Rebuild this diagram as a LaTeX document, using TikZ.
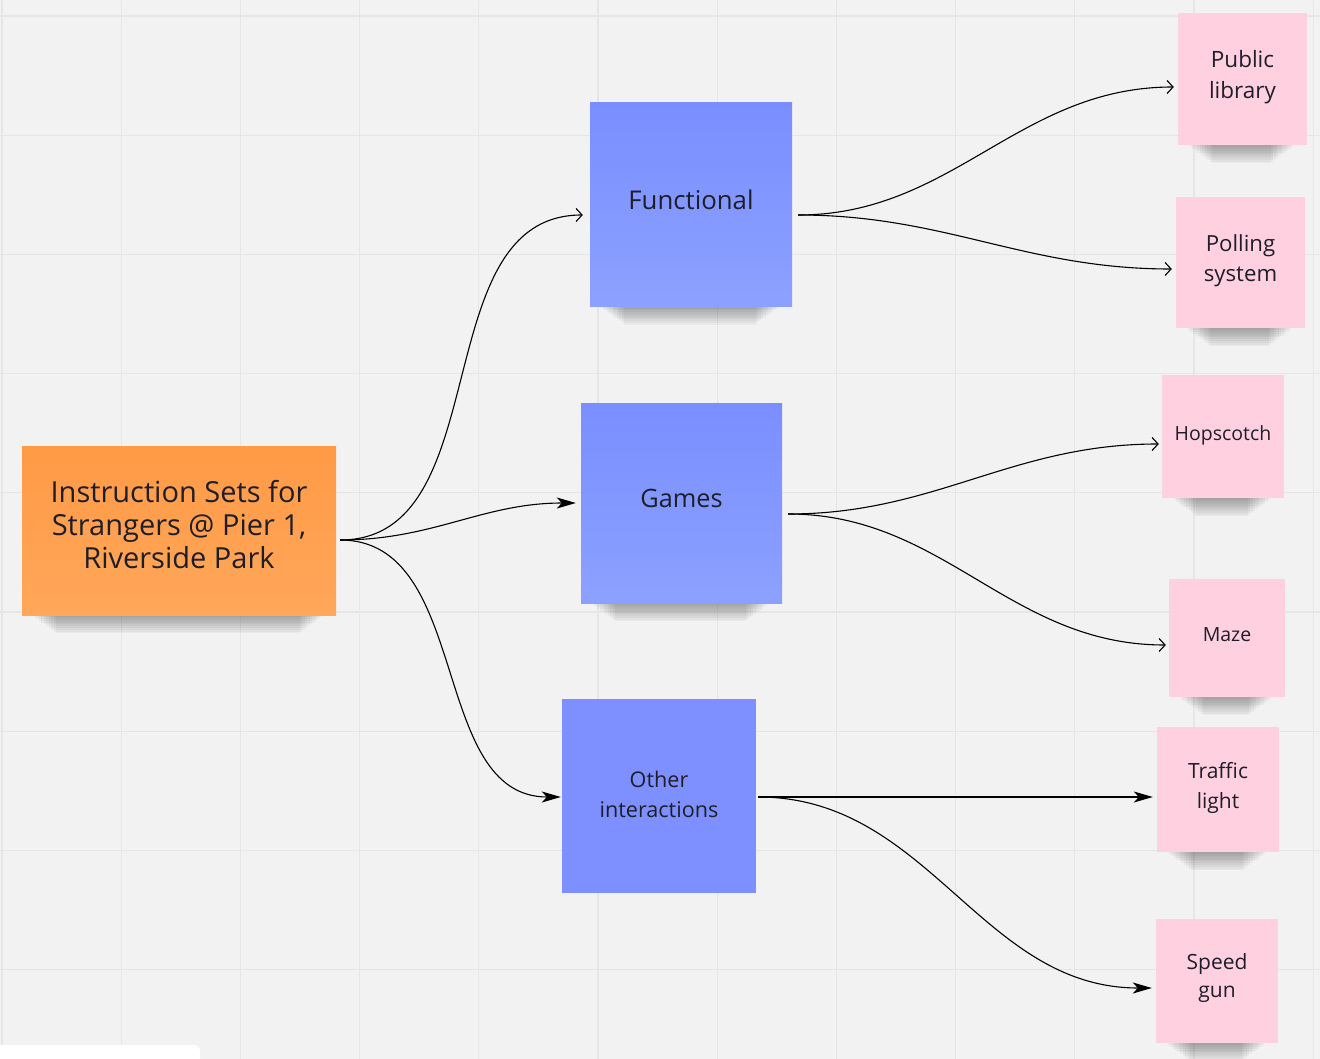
\documentclass[tikz,border=0pt]{standalone}
\usepackage{fontspec}
\setmainfont{Open Sans}
\usetikzlibrary{arrows.meta,calc}
\pgfdeclarelayer{bg}
\pgfsetlayers{bg,main}
\definecolor{bgc}{HTML}{F2F2F2}
\definecolor{gridc}{HTML}{E6E6E6}
\definecolor{txt}{HTML}{1E1E2A}
\definecolor{orangeT}{HTML}{FF9A46}
\definecolor{orangeB}{HTML}{FFA75A}
\definecolor{blueT}{HTML}{7A8EFF}
\definecolor{blueB}{HTML}{8CA1FF}
\definecolor{blueF}{HTML}{7E90FF}
\definecolor{pink}{HTML}{FFD0DF}
\newcommand{\stickyshadow}[1]{%
  \foreach \i in {0,...,9}{%
    \fill[black,opacity=0.035] ($(#1.south west)+(12+2.5*\i,-4)$) rectangle ($(#1.south east)+(-14-2.5*\i,2+1.8*\i)$);
  }%
}
\begin{document}
\begin{tikzpicture}[x=1pt,y=-1pt,
  box/.style={inner sep=0pt},
  lbl/.style={inner sep=0pt, align=center, text=txt},
  orangenote/.style={box, top color=orangeT, bottom color=orangeB, minimum width=314pt, minimum height=169pt},
  bluenote/.style={box, top color=blueT, bottom color=blueB},
  flatblue/.style={box, fill=blueF},
  pinknote/.style={box, fill=pink},
  link/.style={line width=1.1pt, black},
  openhead/.style={link, -{Straight Barb[length=6pt,width=13pt,line width=1.1pt]}},
  fillhead/.style={link, -{Stealth[length=19pt,width=11pt,inset=5pt]}},
]
\useasboundingbox (0,0) rectangle (1320,1059);
% nodes
\node[orangenote, label={[lbl, yshift=6pt, font=\fontsize{29}{33}\selectfont]center:{Instruction Sets for\\Strangers @ Pier 1,\\Riverside Park}}] (root) at (179,530.5) {};
\node[bluenote, minimum width=202pt, minimum height=204pt, label={[lbl, yshift=5pt, font=\fontsize{25.8}{30}\selectfont]center:{Functional}}] (func) at (691,204.5) {};
\node[bluenote, minimum width=201pt, minimum height=200pt, label={[lbl, yshift=5pt, font=\fontsize{25.3}{30}\selectfont]center:{Games}}] (games) at (681.5,503) {};
\node[flatblue, minimum width=194pt, minimum height=194pt, label={[lbl, yshift=2pt, font=\fontsize{21.6}{30}\selectfont]center:{Other\\interactions}}] (other) at (659,796) {};
\node[pinknote, minimum width=129pt, minimum height=132pt, label={[lbl, yshift=2pt, font=\fontsize{22.5}{31}\selectfont]center:{Public\\library}}] (pub) at (1242.5,79) {};
\node[pinknote, minimum width=129pt, minimum height=131pt, label={[lbl, yshift=2pt, font=\fontsize{22.2}{30}\selectfont]center:{Polling\\system}}] (poll) at (1240.5,262.5) {};
\node[pinknote, minimum width=122pt, minimum height=123pt, label={[lbl, yshift=1pt, font=\fontsize{19.5}{28}\selectfont]center:{Hopscotch}}] (hop) at (1223,436.5) {};
\node[pinknote, minimum width=116pt, minimum height=118pt, label={[lbl, yshift=3pt, font=\fontsize{19.5}{28}\selectfont]center:{Maze}}] (maze) at (1227,638) {};
\node[pinknote, minimum width=122pt, minimum height=125pt, label={[lbl, yshift=2pt, font=\fontsize{21}{30}\selectfont]center:{Traffic\\light}}] (traf) at (1218,789.5) {};
\node[pinknote, minimum width=122pt, minimum height=124pt, label={[lbl, yshift=3pt, font=\fontsize{21}{28}\selectfont]center:{Speed\\gun}}] (speed) at (1217,981) {};
% background
\begin{pgfonlayer}{bg}
  \fill[bgc] (0,0) rectangle (1320,1059);
  \foreach \k in {0,...,11} \draw[gridc, line width=1.3pt] (2+119.2*\k,0) -- (2+119.2*\k,1059);
  \foreach \k in {0,...,8} \draw[gridc, line width=1.3pt] (0,16+119.2*\k) -- (1320,16+119.2*\k);
  \fill[white!98!bgc, rounded corners=6pt] (-10,1045) rectangle (200,1075);
  \stickyshadow{root}
  \stickyshadow{func}
  \stickyshadow{games}
  \stickyshadow{pub}
  \stickyshadow{poll}
  \stickyshadow{hop}
  \stickyshadow{maze}
  \stickyshadow{traf}
  \stickyshadow{speed}
\end{pgfonlayer}
% connectors
\draw[openhead] ([shift={(4,9.5)}]root.east) to[out=0,in=180] ([shift={(-7,10.5)}]func.west);
\draw[fillhead] ([shift={(4,9.5)}]root.east) to[out=0,in=180] ([shift={(-5,0)}]games.west);
\draw[fillhead] ([shift={(4,9.5)}]root.east) to[out=0,in=180] ([shift={(-1,1)}]other.west);
\draw[openhead] ([shift={(6,10.5)}]func.east) to[out=0,in=180] ([shift={(-4,8)}]pub.west);
\draw[openhead] ([shift={(6,10.5)}]func.east) to[out=0,in=180] ([shift={(-4,6.5)}]poll.west);
\draw[openhead] ([shift={(6,11)}]games.east) to[out=0,in=180] ([shift={(-3,7.5)}]hop.west);
\draw[openhead] ([shift={(6,11)}]games.east) to[out=0,in=180] ([shift={(-3,7)}]maze.west);
\draw[fillhead] ([shift={(2,1)}]other.east) -- ([shift={(-4,7.5)}]traf.west);
\draw[fillhead] ([shift={(2,1)}]other.east) to[out=0,in=180] ([shift={(-4,7)}]speed.west);
\end{tikzpicture}
\end{document}
